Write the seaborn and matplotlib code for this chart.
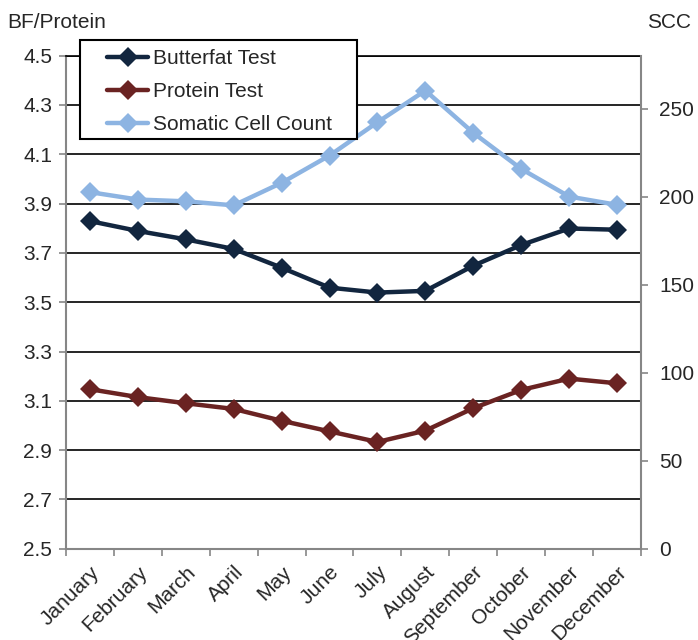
import matplotlib
matplotlib.use("Agg")
import matplotlib.pyplot as plt
import matplotlib.transforms as mtransforms
from matplotlib.patches import Rectangle
from matplotlib.ticker import FixedLocator
import seaborn as sns
import pandas as pd
import numpy as np

months = ["January", "February", "March", "April", "May", "June",
          "July", "August", "September", "October", "November", "December"]
butterfat = [3.829, 3.789, 3.755, 3.716, 3.640, 3.559,
             3.539, 3.546, 3.648, 3.732, 3.799, 3.794]
protein = [3.147, 3.115, 3.090, 3.067, 3.019, 2.976,
           2.933, 2.979, 3.070, 3.144, 3.190, 3.171]
scc = [202.5, 198.3, 197.3, 195.0, 207.8, 223.3,
       242.2, 260.2, 236.2, 215.7, 200.0, 195.3]

left_ticks = [2.5, 2.7, 2.9, 3.1, 3.3, 3.5, 3.7, 3.9, 4.1, 4.3, 4.5]
right_ticks = [0, 50, 100, 150, 200, 250]

c_bf = "#12263f"
c_pr = "#6a2322"
c_scc = "#8db4e2"
axis_grey = "#868686"
FS = 15

sns.set_theme(style="white")
plt.rcParams["font.family"] = ["Liberation Sans", "DejaVu Sans"]
plt.rcParams["font.size"] = FS

df = pd.DataFrame({"Month": months, "Butterfat Test": butterfat,
                   "Protein Test": protein, "Somatic Cell Count": scc})

W, H = 698, 640
fig = plt.figure(figsize=(W / 100, H / 100), dpi=100)
ax = fig.add_axes([66 / W, 1 - 548.7 / H, 575 / W, 493 / H])
ax2 = ax.twinx()

line_kw = dict(marker="D", markersize=10, linewidth=3.2, markeredgewidth=0)
sns.lineplot(data=df, x="Month", y="Butterfat Test", ax=ax, color=c_bf,
             label="Butterfat Test", legend=False, **line_kw)
sns.lineplot(data=df, x="Month", y="Protein Test", ax=ax, color=c_pr,
             label="Protein Test", legend=False, **line_kw)
sns.lineplot(data=df, x="Month", y="Somatic Cell Count", ax=ax2, color=c_scc,
             label="Somatic Cell Count", legend=False, **line_kw)

# left axis: butterfat / protein
ax.set_ylim(2.5, 4.5)
ax.set_yticks(left_ticks)
ax.set_yticklabels([f"{t:.1f}" for t in left_ticks])
ax.yaxis.grid(True, color="black", linewidth=1.2)
ax.set_axisbelow(True)
ax.set_xlim(-0.5, len(months) - 0.5)
ax.set_xlabel("")
ax.set_ylabel("")

# category labels centred, tick marks on boundaries
ax.set_xticks(range(len(months)))
ax.set_xticklabels(months, rotation=45, ha="right", va="top",
                   rotation_mode="anchor")
shift = mtransforms.ScaledTranslation(2 / 100, 0, fig.dpi_scale_trans)
for lab in ax.get_xticklabels():
    lab.set_transform(lab.get_transform() + shift)
ax.tick_params(axis="x", which="major", length=0, pad=10, labelsize=FS)
ax.xaxis.set_minor_locator(FixedLocator(np.arange(-0.5, len(months), 1.0)))
ax.tick_params(axis="x", which="minor", length=5, width=1.2, color=axis_grey,
               direction="out", bottom=True)
ax.tick_params(axis="y", length=5, width=1.2, color=axis_grey, left=True,
               labelsize=FS, pad=5)

for s in ["left", "bottom"]:
    ax.spines[s].set_color(axis_grey)
    ax.spines[s].set_linewidth(1.5)
ax.spines["top"].set_color("black")
ax.spines["top"].set_linewidth(1.2)
ax.spines["right"].set_visible(False)

# right axis: somatic cell count
ax2.set_ylim(0, 280)
ax2.set_yticks(right_ticks)
ax2.set_ylabel("")
ax2.tick_params(axis="y", length=5, width=1.2, color=axis_grey, right=True,
                labelsize=FS, pad=8)
ax2.spines["right"].set_color(axis_grey)
ax2.spines["right"].set_linewidth(1.5)
for s in ["left", "bottom", "top"]:
    ax2.spines[s].set_visible(False)

fig.text(7 / W, 1 - 23 / H, "BF/Protein", fontsize=FS, va="center", ha="left")
fig.text(691 / W, 1 - 23 / H, "SCC", fontsize=FS, va="center", ha="right")

# legend box with its entries
box = Rectangle((80 / W, 1 - 139 / H), 277 / W, 99 / H, transform=fig.transFigure,
                facecolor="white", edgecolor="black", linewidth=1.5, zorder=5)
fig.add_artist(box)
handles = ax.get_lines()[:2] + ax2.get_lines()[:1]
leg = fig.legend(handles, ["Butterfat Test", "Protein Test", "Somatic Cell Count"],
                 loc="upper left", bbox_to_anchor=(107 / W, 1 - 49 / H),
                 bbox_transform=fig.transFigure, fontsize=FS, frameon=False,
                 handlelength=1.97, handletextpad=0.24, labelspacing=0.67,
                 borderpad=0, borderaxespad=0)
leg.set_zorder(6)

fig.savefig("out.png", dpi=100)
